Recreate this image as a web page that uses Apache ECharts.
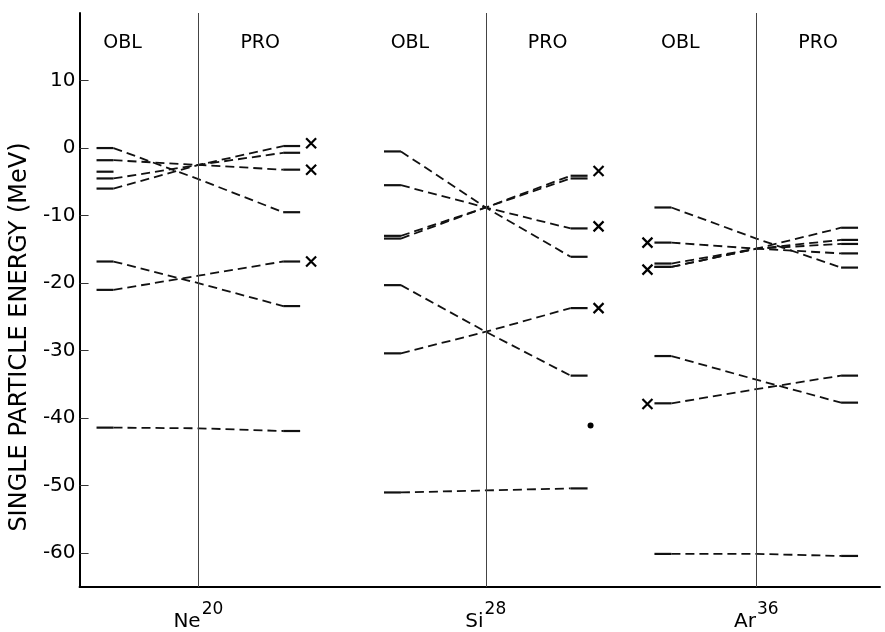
<!DOCTYPE html>
<html>
<head>
<meta charset="utf-8">
<script src="https://cdn.jsdelivr.net/npm/echarts@6/dist/echarts.min.js"></script>
<style>
html,body{margin:0;padding:0;background:#fff;}
#chart{width:885px;height:632px;}
</style>
</head>
<body>
<div id="chart"></div>
<script>
// ---------- data ----------
const nuclei = ['Ne', 'Si', 'Ar'];
const massNumbers = ['20', '28', '36'];
const sideLabels = ['OBL', 'PRO'];
const yTicks = [-60, -50, -40, -30, -20, -10, 0, 10];

// single particle levels (MeV): oblate end, spherical (centre), prolate end
const neObl = [0.0, -1.8, -3.5, -4.5, -6.0, -16.8, -21.0, -41.4];
const neMid = [-4.6, -2.5, null, -2.5, -2.5, -20.0, -18.9, -41.5];
const nePro = [-9.5, -3.2, null, -0.7, 0.3, -23.4, -16.8, -41.9];

const siObl = [-0.5, -5.5, -13.0, -13.4, -20.3, -30.4, -51.0];
const siMid = [-8.8, -8.8, -8.8, -8.8, -27.2, -27.2, -50.7];
const siPro = [-16.1, -11.9, -4.1, -4.5, -33.7, -23.7, -50.4];

const arObl = [-8.8, -14.0, -17.1, -17.6, -17.6, -30.8, -37.8, -60.1];
const arMid = [-13.4, -14.9, -14.9, -14.9, -14.9, -34.3, -35.7, -60.1];
const arPro = [-17.7, -15.6, -11.8, -13.6, -14.2, -37.7, -33.7, -60.4];

// experimental values (crosses) and dot
const neCross = [0.7, -3.2, -16.8];
const siCross = [-3.4, -11.6, -23.7];
const siDot = [-41.1];
const arCross = [-14.0, -18.0, -37.9];

// ---------- layout (axis units) ----------
const groupCenters = [119, 407, 678];
const X_MAX = 802;
const OUTER = 102, INNER = 85;
const CROSS_RIGHT = 113, CROSS_LEFT = -109, DOT_RIGHT = 105;
const SIDE_LABEL_OFFSET = [-76, 62];
const SIDE_LABEL_Y = 15.6;

const FONT = 'DejaVu Sans';
const INK = '#111';

const series = [];
function solid(data) {
  series.push({type: 'line', data: data, symbol: 'none', silent: true,
    lineStyle: {color: INK, width: 2.2, type: 'solid'}, z: 3});
}
function dashed(data, dash) {
  series.push({type: 'line', data: data, symbol: 'none', silent: true,
    lineStyle: {color: INK, width: 1.8, type: dash || [9, 5]}, z: 2});
}
function addLevels(c, obl, mid, pro) {
  for (let i = 0; i < obl.length; i++) {
    solid([[c - OUTER, obl[i]], [c - INNER, obl[i]]]);
    if (pro[i] !== null) solid([[c + INNER, pro[i]], [c + OUTER, pro[i]]]);
    if (mid[i] !== null && pro[i] !== null) {
      dashed([[c - INNER, obl[i]], [c, mid[i]], [c + INNER, pro[i]]]);
    }
  }
}
addLevels(groupCenters[0], neObl, neMid, nePro);
addLevels(groupCenters[1], siObl, siMid, siPro);
addLevels(groupCenters[2], arObl, arMid, arPro);

const crossPath = 'path://M0,0L10,10M10,0L0,10';
const crossData = []
  .concat(neCross.map(v => [groupCenters[0] + CROSS_RIGHT, v]))
  .concat(siCross.map(v => [groupCenters[1] + CROSS_RIGHT, v]))
  .concat(arCross.map(v => [groupCenters[2] + CROSS_LEFT, v]));
series.push({type: 'scatter', data: crossData, symbol: crossPath, symbolSize: 10, silent: true,
  itemStyle: {color: 'none', borderColor: '#000', borderWidth: 2.2, opacity: 1}, z: 4});
series.push({type: 'scatter', data: siDot.map(v => [groupCenters[1] + DOT_RIGHT, v]),
  symbol: 'circle', symbolSize: 6, silent: true, itemStyle: {color: '#000', opacity: 1}, z: 4});

// side labels OBL / PRO
const sideData = [];
groupCenters.forEach(c => {
  sideLabels.forEach((s, k) => sideData.push({value: [c + SIDE_LABEL_OFFSET[k], SIDE_LABEL_Y], name: s}));
});
series.push({type: 'scatter', data: sideData, symbolSize: 1, silent: true,
  itemStyle: {color: 'rgba(0,0,0,0)', opacity: 1},
  label: {show: true, position: 'inside', formatter: p => p.name,
    fontFamily: FONT, fontSize: 19, color: '#000', opacity: 1}});

// divider lines at spherical shape
series.push({type: 'line', data: [], silent: true,
  markLine: {silent: true, symbol: ['none', 'none'], label: {show: false},
    lineStyle: {color: '#444', width: 1, type: 'solid'},
    data: groupCenters.map(c => ({xAxis: c}))}});

const chart = echarts.init(document.getElementById('chart'), null, {renderer: 'canvas'});
chart.setOption({
  animation: false,
  backgroundColor: '#fff',
  grid: {left: 78, right: 5, top: 13, bottom: 45, containLabel: false},
  xAxis: {
    type: 'value', min: 0, max: X_MAX,
    axisLine: {show: true, onZero: false, lineStyle: {color: '#000', width: 2}},
    axisTick: {show: false},
    splitLine: {show: false},
    axisLabel: {
      customValues: groupCenters, margin: 14,
      formatter: function (v) {
        const i = groupCenters.indexOf(v);
        return i < 0 ? '' : '{b|' + nuclei[i] + '}{s|' + massNumbers[i] + '}';
      },
      rich: {
        b: {fontFamily: FONT, fontSize: 20, color: '#000'},
        s: {fontFamily: FONT, fontSize: 17, color: '#000', padding: [0, 0, 24, 1]}
      }
    }
  },
  yAxis: {
    type: 'value', min: -65, max: 20,
    name: 'SINGLE PARTICLE ENERGY (MeV)', nameLocation: 'middle', nameGap: 46, nameRotate: 90,
    nameTextStyle: {fontFamily: FONT, fontSize: 24, color: '#000', padding: [0, 74, 0, 0]},
    axisLine: {show: true, onZero: false, lineStyle: {color: '#000', width: 2}},
    axisTick: {show: true, inside: true, length: 9, customValues: yTicks, lineStyle: {color: '#333', width: 1}},
    axisLabel: {customValues: yTicks, margin: 4, fontFamily: FONT, fontSize: 20, color: '#000'},
    splitLine: {show: false}
  },
  series: series
});
</script>
</body>
</html>
